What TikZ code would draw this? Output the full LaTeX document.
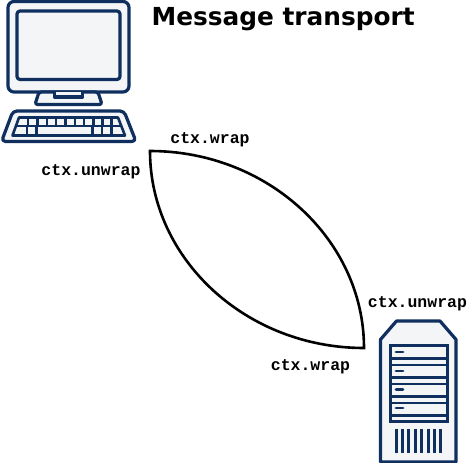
\documentclass[tikz,border=0pt]{standalone}
\usepackage{fontspec}
\setmainfont{DejaVu Sans}
\newfontfamily\lblfont{Liberation Mono}[Scale=1]
\definecolor{navy}{HTML}{0F2F5F}
\definecolor{pale}{HTML}{F4F5F7}
\tikzset{
  icon/.style={draw=navy,fill=pale,line width=3.2pt,line join=round},
  iconline/.style={draw=navy,line width=2.6pt},
  lbl/.style={inner sep=0pt,font=\lblfont\bfseries\fontsize{16.5}{16.5}\selectfont,text=black,anchor=base},
  ttl/.style={inner sep=0pt,font=\bfseries\fontsize{24.8}{24.8}\selectfont,text=black,anchor=base west},
  link/.style={draw=black,line width=2.6pt,line join=miter,miter limit=10}
}
\begin{document}
\begin{tikzpicture}[x=1pt,y=-1pt]
\useasboundingbox (0,0) rectangle (467,463);
% computer
\draw[icon,rounded corners=6pt] (8,1.5) rectangle (129,92);
\draw[icon,rounded corners=3pt] (17,11) rectangle (120,79.5);
\draw[icon,rounded corners=2.5pt] (39,92) -- (35,104.5) -- (102,104.5) -- (98,92) -- cycle;
\draw[icon] (54.5,92) -- (54.5,97) -- (82.5,97) -- (82.5,92);
\draw[icon,rounded corners=4pt] (13,111) -- (124,111) -- (136,141.5) -- (1.5,141.5) -- cycle;
\draw[icon,line width=2.6pt] (19,117.5) -- (118,117.5) -- (125,135.5) -- (12.5,135.5) -- cycle;
\draw[iconline] (16,126) -- (121,126);
\foreach \x in {28,37.5,47,56,65.5,75,84,93.5,102.5,111.5}
  \draw[iconline] (\x,117.5) -- (\x,126);
\foreach \x in {27,36.5,92.5,102,111.5}
  \draw[iconline] (\x,126) -- (\x,135.5);
% server
\draw[icon] (396.5,321) -- (440,321) -- (456,339.5) -- (456,462) -- (380.5,462) -- (380.5,339.5) -- cycle;
\draw[draw=navy,fill=pale,line width=3pt] (390,345.5) rectangle (447,421);
\foreach \y in {358.5,377.5,396,415}
  \draw[iconline,line width=3pt] (390,\y) -- (447,\y);
\foreach \y in {365,384,403}
  \draw[iconline,line width=2.2pt] (390,\y) -- (447,\y);
\foreach \y in {352,371,389.5,408}
  \draw[iconline,line cap=round,line width=2.8pt] (396,\y) -- (403,\y);
\foreach \x in {396,402.4,408.8,415.2,421.6,428,434.4,440.8}
  \draw[iconline,line width=3pt] (\x,428.5) -- (\x,453);
% title
\node[ttl] (title) at (151.5,25) {Message transport};
% connectors
\coordinate (a) at (150,151);
\coordinate (b) at (364,348);
\draw[link] (a) .. controls (268,151) and (364,240) .. (b) .. controls (246,348) and (150,259) .. cycle;
% labels
\node[lbl] (wrapa) at (210,143) {ctx.wrap};
\node[lbl] (unwrapa) at (91,175) {ctx.unwrap};
\node[lbl] (unwrapb) at (417.5,307) {ctx.unwrap};
\node[lbl] (wrapb) at (310.5,370) {ctx.wrap};
\end{tikzpicture}
\end{document}
